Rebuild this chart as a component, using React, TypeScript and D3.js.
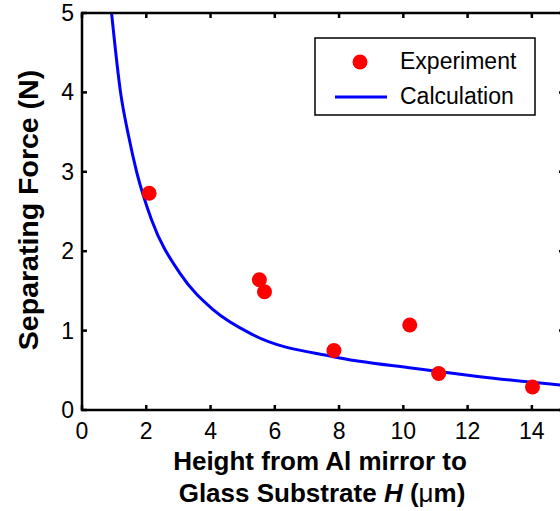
import * as d3 from 'd3'

// experiment points (H in um, force in N)
const expH = [2.09, 5.52, 5.68, 7.84, 10.2, 11.1, 14.02]
const expF = [2.73, 1.64, 1.49, 0.75, 1.07, 0.46, 0.29]

// calculated curve
const calcH = [0.92, 1.2, 1.45, 1.7, 2.17, 3.05, 4.09, 5.33, 7.82, 10.31, 12.38, 15]
const calcF = [5.0, 4.0, 3.45, 3.0, 2.39, 1.72, 1.26, 0.945, 0.67, 0.525, 0.42, 0.31]

const xTicks = [0, 2, 4, 6, 8, 10, 12, 14]
const yTicks = [0, 1, 2, 3, 4, 5]

const font = '"Liberation Sans", Arial, Helvetica, sans-serif'

export default function App() {
  const width = 560
  const height = 511
  const left = 82
  const right = 564
  const top = 13
  const bottom = 410
  const tick = 5

  const x = d3.scaleLinear([0, 15], [left, right])
  const y = d3.scaleLinear([0, 5], [bottom, top])

  const line = d3
    .line<number>()
    .x((h) => x(h))
    .y((_, i) => y(calcF[i]))
    .curve(d3.curveMonotoneX)

  return (
    <svg
      width={width}
      height={height}
      style={{ position: 'absolute', left: 0, top: 0, background: '#fff' }}
      fontFamily={font}
    >
      <defs>
        <clipPath id="plot">
          <rect x={left} y={top} width={right - left} height={bottom - top} />
        </clipPath>
      </defs>

      {/* curve */}
      <path
        d={line(calcH) || undefined}
        fill="none"
        stroke="#0000ff"
        strokeWidth={3}
        clipPath="url(#plot)"
      />

      {/* points */}
      <g fill="#ff0000">
        {expH.map((h, i) => (
          <circle key={i} cx={x(h)} cy={y(expF[i])} r={7.5} />
        ))}
      </g>

      {/* frame */}
      <rect
        x={left}
        y={top}
        width={right - left}
        height={bottom - top}
        fill="none"
        stroke="#000"
        strokeWidth={2.5}
      />

      {/* ticks */}
      <g stroke="#000" strokeWidth={2.5}>
        {xTicks.map((t) => (
          <g key={t}>
            <line x1={x(t)} x2={x(t)} y1={bottom} y2={bottom - tick} />
            <line x1={x(t)} x2={x(t)} y1={top} y2={top + tick} />
          </g>
        ))}
        {yTicks.map((t) => (
          <g key={t}>
            <line x1={left} x2={left + tick} y1={y(t)} y2={y(t)} />
            <line x1={right} x2={right - tick} y1={y(t)} y2={y(t)} />
          </g>
        ))}
      </g>

      {/* tick labels */}
      <g fontSize={23} fill="#000">
        {xTicks.map((t) => (
          <text key={t} x={x(t)} y={bottom + 29} textAnchor="middle">
            {t}
          </text>
        ))}
        {yTicks.map((t) => (
          <text key={t} x={left - 8} y={y(t) + 8} textAnchor="end">
            {t}
          </text>
        ))}
      </g>

      {/* axis titles */}
      <text
        transform="translate(38,210) rotate(-90)"
        textAnchor="middle"
        fontSize={28.5}
        fontWeight="bold"
      >
        Separating Force (N)
      </text>
      <g fontSize={26} fontWeight="bold" textAnchor="middle">
        <text x={320} y={470}>
          Height from Al mirror to
        </text>
        <text x={322} y={502}>
          Glass Substrate <tspan fontStyle="italic">H</tspan> (<tspan fontWeight="normal">μ</tspan>m)
        </text>
      </g>

      {/* legend */}
      <rect x={315} y={38} width={220} height={77} fill="#fff" stroke="#000" strokeWidth={1.5} />
      <circle cx={360} cy={62} r={7.5} fill="#ff0000" />
      <line x1={335} x2={387} y1={97} y2={97} stroke="#0000ff" strokeWidth={3} />
      <g fontSize={23} fill="#000">
        <text x={400} y={69}>Experiment</text>
        <text x={400} y={104}>Calculation</text>
      </g>
    </svg>
  )
}
